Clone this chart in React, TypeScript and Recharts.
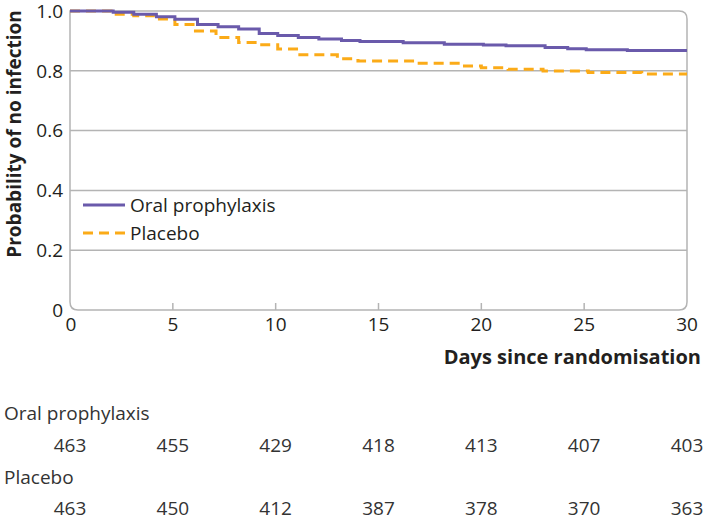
import React from "react";
import { LineChart, Line, XAxis, YAxis, ReferenceLine, ReferenceArea, Legend } from "recharts";

// Kaplan–Meier step times (days) and survival probabilities
const oralDays = [0, 2.1, 3.1, 4.2, 5.1, 6.2, 7.2, 8.2, 9.2, 10.1, 11.1, 12.1, 13.2, 14.1, 16.2, 18.2, 20.1, 21.2, 23.1, 24.2, 25.1, 27.1, 30];
const oralSurv = [1.0, 0.996, 0.989, 0.981, 0.972, 0.955, 0.947, 0.94, 0.925, 0.918, 0.911, 0.906, 0.901, 0.898, 0.894, 0.889, 0.886, 0.884, 0.878, 0.874, 0.87, 0.868, 0.868];

const placeboDays = [0, 2.0, 3.1, 4.1, 5.1, 6.1, 7.1, 8.2, 9.1, 10.1, 11.1, 13.0, 14.0, 16.9, 19.1, 20.0, 21.3, 23.0, 25.2, 27.8, 30];
const placeboSurv = [1.0, 0.989, 0.984, 0.973, 0.955, 0.933, 0.911, 0.895, 0.887, 0.873, 0.854, 0.84, 0.833, 0.825, 0.816, 0.81, 0.805, 0.799, 0.794, 0.789, 0.789];

const xTicks = [0, 5, 10, 15, 20, 25, 30];
const yTicks = [0, 0.2, 0.4, 0.6, 0.8, 1.0];
const gridTicks = [0.2, 0.4, 0.6, 0.8];

const oralAtRisk = [463, 455, 429, 418, 413, 407, 403];
const placeboAtRisk = [463, 450, 412, 387, 378, 370, 363];

const oralName = "Oral prophylaxis";
const placeboName = "Placebo";
const yTitle = "Probability of no infection";
const xTitle = "Days since randomisation";

const oralData = oralDays.map((d, i) => ({ day: d, value: oralSurv[i] }));
const placeboData = placeboDays.map((d, i) => ({ day: d, value: placeboSurv[i] }));

const FONT = "'Open Sans', 'DejaVu Sans', sans-serif";
const TEXT = "#231f20";
const GRID = "#b4b4b4";
const PURPLE = "#6a5aab";
const ORANGE = "#fbab18";

const XTick = (props: any) => {
  const { x, y, payload } = props;
  const v = payload.value;
  const idx = xTicks.indexOf(v);
  return (
    <g>
      {v !== 0 && v !== 30 && (
        <line x1={x} x2={x} y1={y - 7} y2={y} stroke={GRID} strokeWidth={1.5} />
      )}
      <text x={x + (v === 0 ? 1 : 0)} y={y + 14} textAnchor="middle" dominantBaseline="central" fontFamily={FONT} fontSize={19} fill={TEXT}>
        {v}
      </text>
      <text x={x} y={y + 135} textAnchor="middle" dominantBaseline="central" fontFamily={FONT} fontSize={19} fill="#333">
        {oralAtRisk[idx]}
      </text>
      <text x={x} y={y + 198} textAnchor="middle" dominantBaseline="central" fontFamily={FONT} fontSize={19} fill="#333">
        {placeboAtRisk[idx]}
      </text>
    </g>
  );
};

const Frame = (props: any) => {
  const { x, y, width, height } = props;
  const r = 8;
  const x2 = x + width;
  const y2 = y + height;
  const d = `M ${x} ${y} L ${x2 - r} ${y} Q ${x2} ${y} ${x2} ${y + r} L ${x2} ${y2 - r} Q ${x2} ${y2} ${x2 - r} ${y2} L ${x + r} ${y2} Q ${x} ${y2} ${x} ${y2 - r} Z`;
  return <path d={d} fill="none" stroke={GRID} strokeWidth={1.5} />;
};

const LegendContent = () => (
  <div style={{ fontFamily: FONT, fontSize: 19, color: TEXT }}>
    <div style={{ display: "flex", alignItems: "center", height: 28 }}>
      <svg width={42} height={10}><line x1={0} x2={42} y1={5} y2={5} stroke={PURPLE} strokeWidth={3} /></svg>
      <span style={{ marginLeft: 5, lineHeight: "28px" }}>{oralName}</span>
    </div>
    <div style={{ display: "flex", alignItems: "center", height: 28 }}>
      <svg width={42} height={10}><line x1={0} x2={42} y1={5} y2={5} stroke={ORANGE} strokeWidth={3} strokeDasharray="10 6" /></svg>
      <span style={{ marginLeft: 5, lineHeight: "28px" }}>{placeboName}</span>
    </div>
  </div>
);

export default function App() {
  return (
    <div style={{ position: "absolute", left: 0, top: 0, width: 705, height: 523, background: "#fff" }}>
      <LineChart width={705} height={523} margin={{ top: 11, right: 18, left: 0, bottom: 183 }}>
        <XAxis
          dataKey="day"
          type="number"
          domain={[0, 30]}
          ticks={xTicks}
          axisLine={false}
          tickLine={false}
          tickSize={0}
          tickMargin={0}
          height={30}
          tick={<XTick />}
          interval={0}
          allowDuplicatedCategory={false}
          label={{
            content: () => (
              <text x={701} y={356} textAnchor="end" dominantBaseline="central" fontFamily={FONT} fontSize={20} fontWeight={700} fill={TEXT}>
                {xTitle}
              </text>
            ),
          }}
        />
        <YAxis
          type="number"
          domain={[0, 1]}
          ticks={yTicks}
          axisLine={false}
          tickLine={false}
          tickSize={0}
          tickMargin={7}
          width={70}
          interval={0}
          tickFormatter={(v: number) => (v === 0 ? "0" : v.toFixed(1))}
          tick={{ fontFamily: FONT, fontSize: 19, fill: TEXT }}
          label={{
            content: () => (
              <text x={14} y={134} textAnchor="middle" dominantBaseline="central" fontFamily={FONT} fontSize={19} fontWeight={700} fill={TEXT} transform="rotate(-90 14 134)">
                {yTitle}
              </text>
            ),
          }}
        />
        {gridTicks.map((t) => (
          <ReferenceLine key={t} y={t} stroke={GRID} strokeWidth={1.5} />
        ))}
        <ReferenceArea x1={0} x2={30} y1={0} y2={1} shape={<Frame />} />
        <Legend
          layout="vertical"
          verticalAlign="middle"
          align="center"
          content={<LegendContent />}
          wrapperStyle={{ left: 83, top: 191, width: "auto", height: "auto" }}
        />
        <Line
          data={placeboData}
          dataKey="value"
          type="stepAfter"
          stroke={ORANGE}
          strokeWidth={3}
          strokeDasharray="10 6"
          dot={false}
          isAnimationActive={false}
          name={placeboName}
        />
        <Line
          data={oralData}
          dataKey="value"
          type="stepAfter"
          stroke={PURPLE}
          strokeWidth={3}
          dot={false}
          isAnimationActive={false}
          name={oralName}
        />
      </LineChart>
      <div style={{ position: "absolute", left: 4, top: 400, fontFamily: FONT, fontSize: 19, color: "#333", lineHeight: "26px" }}>
        {oralName}
      </div>
      <div style={{ position: "absolute", left: 4, top: 464, fontFamily: FONT, fontSize: 19, color: "#333", lineHeight: "26px" }}>
        {placeboName}
      </div>
    </div>
  );
}
